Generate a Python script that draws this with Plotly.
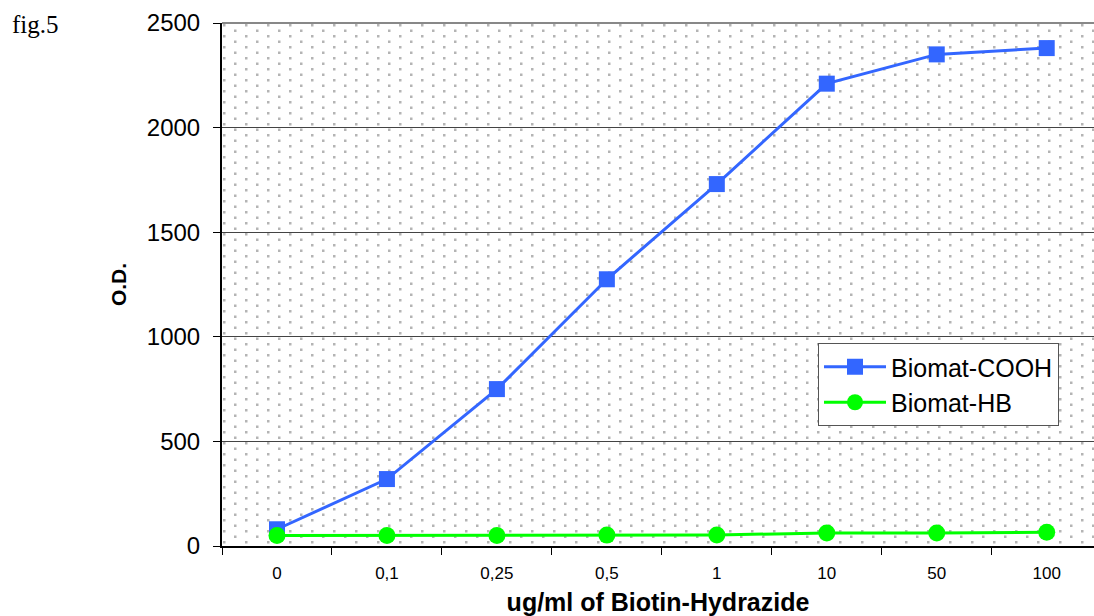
import base64

import plotly.graph_objects as go

# data
concentrations = ["0", "0,1", "0,25", "0,5", "1", "10", "50", "100"]
cooh_values = [80, 320, 750, 1275, 1730, 2210, 2350, 2380]
hb_values = [50, 50, 50, 52, 53, 62, 62, 66]
y_ticks = [0, 500, 1000, 1500, 2000, 2500]

W, H = 1094, 616
L, R, T, B = 222, 0, 23, 70
plot_w = W - L - R
plot_h = H - T - B

# dotted plot background (Excel style fill) as a stretched svg tile
dots_svg = f"""<svg xmlns="http://www.w3.org/2000/svg" width="{plot_w}" height="{plot_h}"
viewBox="0 0 {plot_w} {plot_h}" preserveAspectRatio="none">
<defs><pattern id="p" width="22" height="11" patternUnits="userSpaceOnUse">
<rect x="1" y="1" width="2.5" height="2.5" fill="#b4b4b4"/>
<rect x="12" y="6.5" width="2.5" height="2.5" fill="#b4b4b4"/>
</pattern></defs>
<rect width="100%" height="100%" fill="white"/>
<rect width="100%" height="100%" fill="url(#p)"/>
</svg>"""
dots_uri = "data:image/svg+xml;base64," + base64.b64encode(dots_svg.encode()).decode()

fig = go.Figure()
fig.add_trace(
    go.Scatter(
        x=concentrations,
        y=cooh_values,
        name="Biomat-COOH",
        mode="lines+markers",
        line=dict(color="#3366ff", width=3),
        marker=dict(symbol="square", size=16, color="#3366ff"),
    )
)
fig.add_trace(
    go.Scatter(
        x=concentrations,
        y=hb_values,
        name="Biomat-HB",
        mode="lines+markers",
        line=dict(color="#00ff00", width=3),
        marker=dict(symbol="circle", size=17, color="#00ff00"),
    )
)

fig.update_layout(
    width=W,
    height=H,
    margin=dict(l=L, r=R, t=T, b=B),
    paper_bgcolor="white",
    plot_bgcolor="rgba(0,0,0,0)",
    font=dict(family="Arial, Liberation Sans, sans-serif", color="black"),
    images=[
        dict(
            source=dots_uri,
            xref="paper",
            yref="paper",
            x=0,
            y=1,
            sizex=1,
            sizey=1,
            sizing="stretch",
            xanchor="left",
            yanchor="top",
            layer="below",
        )
    ],
    legend=dict(
        x=(818 - L) / plot_w,
        y=(H - B - 343) / plot_h,
        xanchor="left",
        yanchor="top",
        bgcolor="white",
        bordercolor="#555555",
        borderwidth=1,
        font=dict(size=25),
        itemwidth=62,
        tracegroupgap=0,
    ),
)

fig.update_xaxes(
    type="category",
    range=[-0.5, 7.43],
    tickson="boundaries",
    ticks="outside",
    ticklen=7,
    tickcolor="black",
    showline=True,
    linecolor="black",
    linewidth=2,
    showgrid=False,
    automargin=False,
    tickfont=dict(size=17),
    ticklabelstandoff=11,
    title=dict(
        text="<b>ug/ml of Biotin-Hydrazide</b>",
        font=dict(size=25),
        standoff=17,
    ),
)
fig.update_yaxes(
    range=[0, 2500],
    tickvals=y_ticks,
    ticks="outside",
    ticklen=7,
    tickcolor="black",
    showline=True,
    linecolor="black",
    linewidth=2,
    showgrid=True,
    gridcolor="#444444",
    gridwidth=1,
    zeroline=False,
    tickfont=dict(size=24),
    ticklabelstandoff=8,
    title=dict(text="<b>O.D.</b>", font=dict(size=21), standoff=14),
)

# grey frame line along the top of the plot area
fig.add_shape(
    type="line",
    xref="paper",
    yref="paper",
    x0=0,
    x1=1,
    y0=1,
    y1=1,
    line=dict(color="#888888", width=2),
)

fig.add_annotation(
    text="fig.5",
    xref="paper",
    yref="paper",
    x=(10 - L) / plot_w,
    y=(H - B - 25) / plot_h,
    xanchor="left",
    yanchor="middle",
    showarrow=False,
    font=dict(family="Liberation Serif, Times New Roman, serif", size=25),
)

# drop the default page margin so the figure fills the window
fig.write_html(
    "out.html",
    config={"displayModeBar": False},
    post_script="document.body.style.margin = '0';",
)
